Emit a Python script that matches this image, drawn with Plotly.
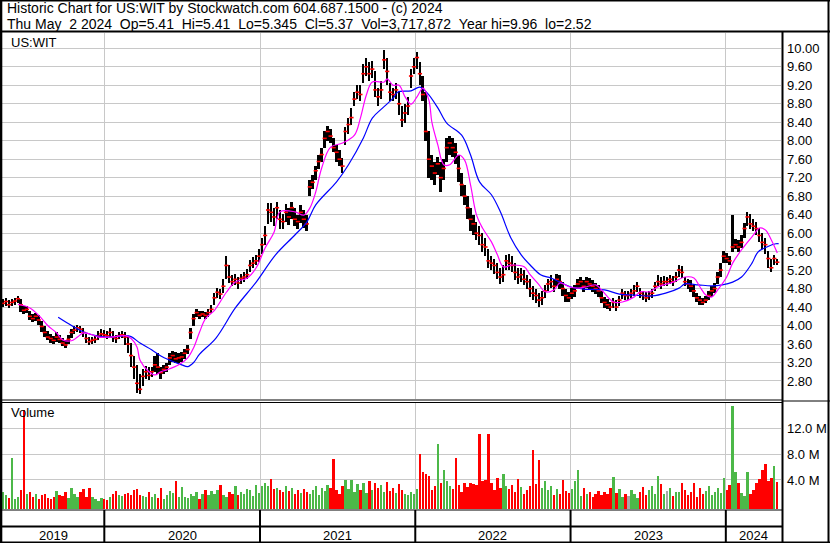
import pandas as pd
import plotly.graph_objects as go

# ---------------- data ----------------
start_date = "2019-05-08"          # first weekly bar
x_range = ["2019-05-05 12:00", "2024-05-09 17:00"]

close = [
    4.48, 4.52, 4.45, 4.50, 4.53, 4.58, 4.45, 4.33, 4.35, 4.20,
    4.15, 4.20, 4.12, 3.98, 3.85, 3.75, 3.72, 3.68, 3.75, 3.70,
    3.62, 3.58, 3.70, 3.85, 3.90, 3.95, 3.92, 3.85, 3.72, 3.65,
    3.68, 3.70, 3.78, 3.82, 3.80, 3.78, 3.85, 3.75, 3.72, 3.78,
    3.80, 3.75, 3.60, 3.35, 3.10, 2.75, 2.62, 2.90, 3.00, 2.92,
    3.00, 3.15, 3.10, 2.98, 3.05, 3.10, 3.30, 3.35, 3.28, 3.30,
    3.32, 3.40, 3.48, 3.85, 4.15, 4.28, 4.22, 4.25, 4.22, 4.28,
    4.35, 4.60, 4.72, 4.68, 4.85, 5.30, 5.05, 4.95, 5.00, 4.92,
    5.02, 5.05, 5.10, 5.30, 5.35, 5.40, 5.50, 5.75, 5.95, 6.50,
    6.45, 6.35, 6.55, 6.30, 6.25, 6.45, 6.35, 6.55, 6.30, 6.25,
    6.45, 6.30, 6.20, 7.00, 7.10, 7.35, 7.55, 7.70, 8.05, 8.20,
    8.10, 7.85, 7.75, 7.60, 7.45, 8.20, 8.35, 8.50, 8.90, 9.05,
    9.00, 9.45, 9.60, 9.45, 9.55, 9.10, 8.95, 9.10, 9.75, 9.50,
    9.05, 9.00, 9.10, 8.80, 8.45, 8.60, 8.75, 9.40, 9.60, 9.80,
    9.45, 9.00, 8.20, 7.60, 7.45, 7.30, 7.50, 7.20, 7.40, 7.85,
    7.95, 7.85, 7.75, 7.40, 7.05, 6.80, 6.55, 6.30, 6.20, 6.00,
    5.95, 5.75, 5.70, 5.40, 5.35, 5.30, 5.15, 5.05, 5.10, 5.40,
    5.35, 5.30, 5.15, 5.05, 5.10, 5.00, 4.95, 4.80, 4.70, 4.65,
    4.55, 4.60, 4.75, 4.90, 4.95, 4.85, 5.00, 4.95, 4.80, 4.65,
    4.60, 4.70, 4.75, 4.90, 4.95, 4.85, 4.95, 4.90, 4.85, 4.80,
    4.75, 4.60, 4.50, 4.45, 4.40, 4.50, 4.40, 4.55, 4.70, 4.65,
    4.65, 4.70, 4.75, 4.85, 4.70, 4.65, 4.60, 4.65, 4.70, 4.85,
    4.95, 4.90, 4.95, 4.95, 5.00, 4.95, 5.05, 5.20, 5.15, 4.95,
    4.90, 4.85, 4.75, 4.60, 4.55, 4.50, 4.55, 4.65, 4.75, 4.80,
    5.05, 5.20, 5.50, 5.45, 5.40, 5.70, 5.75, 5.70, 5.80, 6.10,
    6.35, 6.20, 6.15, 6.10, 5.95, 5.80, 5.75, 5.45, 5.25, 5.45,
    5.37,
]

high = [
    4.58, 4.60, 4.55, 4.58, 4.60, 4.65, 4.58, 4.42, 4.42, 4.32,
    4.25, 4.28, 4.22, 4.10, 3.98, 3.88, 3.82, 3.78, 3.85, 3.80,
    3.72, 3.68, 3.80, 3.92, 3.98, 4.02, 3.98, 3.95, 3.82, 3.75,
    3.75, 3.80, 3.88, 3.92, 3.90, 3.88, 3.95, 3.88, 3.80, 3.86,
    3.88, 3.85, 3.78, 3.62, 3.35, 3.15, 2.95, 3.05, 3.12, 3.10,
    3.10, 3.35, 3.40, 3.10, 3.15, 3.20, 3.40, 3.45, 3.42, 3.40,
    3.42, 3.50, 3.58, 3.95, 4.25, 4.35, 4.32, 4.32, 4.30, 4.35,
    4.45, 4.70, 4.82, 4.80, 5.00, 5.50, 5.30, 5.10, 5.12, 5.05,
    5.12, 5.15, 5.22, 5.42, 5.48, 5.52, 5.65, 5.90, 6.15, 6.65,
    6.65, 6.55, 6.68, 6.50, 6.42, 6.62, 6.55, 6.68, 6.55, 6.40,
    6.60, 6.50, 6.40, 7.15, 7.25, 7.45, 7.70, 7.85, 8.20, 8.32,
    8.25, 8.05, 7.90, 7.80, 7.62, 8.30, 8.50, 8.70, 9.05, 9.20,
    9.20, 9.65, 9.80, 9.70, 9.72, 9.50, 9.15, 9.30, 9.96, 9.80,
    9.25, 9.15, 9.25, 9.05, 8.75, 8.80, 8.95, 9.55, 9.80, 9.92,
    9.70, 9.40, 9.05, 8.20, 7.70, 7.55, 7.65, 7.55, 7.60, 8.05,
    8.10, 8.05, 7.95, 7.70, 7.30, 7.05, 6.80, 6.55, 6.40, 6.25,
    6.15, 6.00, 5.90, 5.65, 5.50, 5.45, 5.35, 5.25, 5.30, 5.52,
    5.55, 5.50, 5.35, 5.25, 5.25, 5.20, 5.10, 5.00, 4.85, 4.80,
    4.70, 4.75, 4.88, 5.00, 5.10, 5.00, 5.12, 5.10, 4.95, 4.80,
    4.72, 4.82, 4.88, 5.00, 5.05, 4.98, 5.05, 5.02, 4.98, 4.92,
    4.88, 4.75, 4.62, 4.58, 4.52, 4.60, 4.55, 4.65, 4.80, 4.75,
    4.75, 4.80, 4.88, 4.95, 4.82, 4.75, 4.72, 4.75, 4.80, 4.95,
    5.10, 5.05, 5.08, 5.05, 5.10, 5.08, 5.15, 5.30, 5.28, 5.05,
    5.00, 4.98, 4.88, 4.70, 4.65, 4.60, 4.65, 4.75, 4.85, 4.92,
    5.15, 5.35, 5.62, 5.58, 5.50, 6.40, 5.88, 5.85, 5.95, 6.22,
    6.45, 6.42, 6.30, 6.25, 6.12, 6.00, 5.90, 5.62, 5.45, 5.52,
    5.45,
]

low = [
    4.40, 4.42, 4.38, 4.42, 4.45, 4.48, 4.30, 4.25, 4.28, 4.12,
    4.08, 4.10, 4.02, 3.85, 3.75, 3.68, 3.62, 3.60, 3.65, 3.62,
    3.55, 3.52, 3.60, 3.72, 3.82, 3.86, 3.84, 3.75, 3.62, 3.58,
    3.60, 3.62, 3.68, 3.74, 3.72, 3.70, 3.75, 3.65, 3.62, 3.70,
    3.72, 3.58, 3.40, 3.10, 2.85, 2.55, 2.52, 2.70, 2.85, 2.82,
    2.88, 3.00, 2.95, 2.85, 2.95, 3.00, 3.15, 3.22, 3.18, 3.20,
    3.22, 3.28, 3.38, 3.70, 3.98, 4.18, 4.15, 4.18, 4.15, 4.18,
    4.28, 4.45, 4.60, 4.58, 4.70, 5.00, 4.92, 4.85, 4.88, 4.80,
    4.90, 4.95, 5.00, 5.15, 5.25, 5.30, 5.38, 5.55, 5.75, 6.20,
    6.25, 6.15, 6.30, 6.10, 6.08, 6.25, 6.18, 6.30, 6.15, 6.10,
    6.22, 6.12, 6.05, 6.80, 6.95, 7.15, 7.38, 7.55, 7.85, 8.00,
    7.95, 7.75, 7.55, 7.45, 7.30, 7.90, 8.15, 8.35, 8.75, 8.90,
    8.85, 9.25, 9.40, 9.30, 9.35, 8.95, 8.75, 8.90, 9.55, 9.20,
    8.85, 8.85, 8.90, 8.55, 8.30, 8.38, 8.55, 9.15, 9.45, 9.55,
    9.20, 8.85, 8.00, 7.20, 7.15, 7.05, 7.25, 6.90, 7.15, 7.55,
    7.70, 7.65, 7.50, 7.10, 6.80, 6.60, 6.30, 6.05, 5.95, 5.85,
    5.75, 5.60, 5.50, 5.25, 5.20, 5.12, 5.00, 4.90, 4.95, 5.20,
    5.20, 5.15, 4.98, 4.90, 4.95, 4.88, 4.80, 4.62, 4.55, 4.48,
    4.40, 4.45, 4.60, 4.75, 4.82, 4.72, 4.85, 4.80, 4.65, 4.52,
    4.50, 4.58, 4.62, 4.78, 4.82, 4.72, 4.82, 4.80, 4.72, 4.68,
    4.62, 4.48, 4.38, 4.35, 4.32, 4.38, 4.32, 4.42, 4.58, 4.55,
    4.55, 4.60, 4.65, 4.72, 4.60, 4.55, 4.52, 4.55, 4.60, 4.75,
    4.85, 4.80, 4.85, 4.85, 4.90, 4.85, 4.95, 5.05, 5.02, 4.85,
    4.78, 4.72, 4.62, 4.50, 4.45, 4.45, 4.48, 4.55, 4.62, 4.70,
    4.90, 5.05, 5.35, 5.35, 5.32, 5.60, 5.65, 5.60, 5.68, 5.90,
    6.15, 6.08, 6.05, 5.95, 5.80, 5.65, 5.55, 5.25, 5.15, 5.30,
    5.32,
]

volume_m = [
    2.1, 1.6, 1.2, 7.4, 1.0, 1.3, 2.5, 14.8, 1.8, 2.2,
    1.3, 1.8, 1.1, 1.6, 1.9, 1.2, 1.0, 1.4, 2.3, 1.7,
    1.5, 2.1, 1.2, 2.8, 1.9, 1.3, 2.2, 2.6, 1.4, 2.8,
    1.4, 1.0, 0.8, 1.2, 1.0, 0.9, 1.4, 1.8, 2.3, 1.6,
    1.5, 1.9, 2.0, 1.7, 2.4, 2.6, 1.6, 1.5, 1.3, 2.1,
    1.4, 1.8, 1.2, 2.8, 1.0, 1.6, 2.3, 2.0, 3.9, 1.3,
    2.9, 1.4, 1.2, 1.8, 1.5, 2.1, 1.1, 1.9, 2.4, 1.6,
    2.3, 1.8, 2.5, 3.2, 1.7, 1.4, 2.2, 1.8, 3.0, 1.6,
    2.1, 1.9, 2.6, 2.4, 1.5, 3.2, 2.0, 3.1, 3.6, 3.0,
    4.1, 2.6, 2.8, 2.5, 2.2, 3.0, 2.3, 2.7, 1.8, 2.4,
    2.0, 2.6, 2.2, 1.8, 2.4, 3.0, 1.7, 2.8, 2.3, 3.3,
    2.7, 7.2, 2.5, 1.8, 3.0, 4.0, 2.6, 4.0, 2.2, 3.4,
    2.5, 3.5, 2.0, 3.8, 2.4, 3.6, 2.8, 3.2, 2.1, 3.7,
    2.3, 2.7, 2.0, 3.4, 2.5, 1.8, 1.6, 2.2, 1.9, 2.6,
    8.0, 5.2, 5.0, 4.6, 2.5, 3.0, 9.6, 3.5, 5.5, 3.8,
    3.0, 2.6, 7.4, 3.3, 2.2, 3.6, 2.9, 3.5, 3.4, 3.2,
    11.2, 3.8, 4.0, 11.2, 3.5, 2.4, 4.3, 2.8, 5.0, 3.1,
    2.6, 3.3, 2.2, 4.1, 2.9, 1.8, 2.5, 3.0, 8.7, 3.4,
    7.1, 2.8, 3.9, 2.4, 3.1, 1.7, 2.6, 1.8, 4.0, 2.3,
    2.0, 2.6, 3.9, 5.6, 1.5, 2.7, 1.8, 2.2, 1.4, 1.9,
    2.3, 1.6, 2.2, 1.8, 2.8, 4.4, 2.0, 2.6, 1.3, 1.8,
    1.5, 2.4, 1.9, 1.2, 2.2, 2.9, 1.6, 2.5, 3.0, 1.8,
    4.6, 3.4, 1.9, 2.3, 2.8, 1.5, 2.2, 2.1, 3.6, 2.4,
    1.6, 2.2, 3.5, 1.4, 2.7, 1.9, 2.3, 3.1, 1.6, 2.2,
    2.8, 2.0, 4.3, 2.4, 3.2, 15.4, 5.3, 3.6, 2.0, 1.5,
    5.2, 1.8, 2.5, 3.6, 4.2, 5.5, 6.5, 3.9, 4.3, 6.2,
    3.7,
]

# moving averages: (week offset from start, value)
ma_fast_wk = [5, 9, 12, 15, 18, 20, 23, 25, 27, 30, 32, 36, 41, 43, 45, 46, 49, 51, 53, 55,
              59, 62, 64, 66, 68, 71, 75, 78, 82, 85, 88, 91, 93, 98, 101, 103, 105, 107, 110, 114,
              118, 120, 122, 124, 128, 129, 131, 133, 135, 137, 139, 141, 143, 144, 146, 148, 150, 153, 155, 157,
              159, 161, 164, 166, 168, 171, 175, 177, 180, 182, 185, 187, 190, 193, 196, 199, 201, 205, 208, 212,
              214, 217, 220, 225, 229, 232, 234, 236, 238, 240, 243, 245, 248, 252, 254, 256, 258, 260]
ma_fast = [4.46, 4.38, 4.22, 4.00, 3.84, 3.69, 3.67, 3.75, 3.84, 3.80, 3.75, 3.75, 3.78, 3.72, 3.53, 3.25, 3.00, 2.93, 3.00, 3.04,
           3.15, 3.30, 3.52, 3.86, 4.15, 4.33, 4.72, 4.94, 5.03, 5.25, 5.68, 6.02, 6.46, 6.46, 6.39, 6.54, 6.89, 7.41, 7.86, 7.95,
           8.12, 8.49, 8.99, 9.27, 9.27, 9.34, 9.20, 9.20, 8.95, 8.79, 8.95, 9.14, 8.88, 8.40, 7.91, 7.48, 7.48, 7.69, 7.58, 7.04,
           6.39, 6.11, 5.81, 5.53, 5.27, 5.31, 5.27, 5.10, 4.88, 4.73, 4.77, 4.92, 4.84, 4.81, 4.84, 4.88, 4.77, 4.51, 4.51, 4.62,
           4.73, 4.73, 4.84, 4.94, 5.05, 5.03, 4.84, 4.66, 4.62, 4.77, 5.05, 5.35, 5.64, 5.96, 6.11, 6.07, 5.85, 5.57]

ma_slow_wk = [18.5, 23, 27, 32, 36, 41, 43, 46, 50, 53, 56, 60, 62, 64, 66, 71.5, 78, 85, 91.5, 98,
              102, 105, 112, 116, 121, 124, 127.5, 131, 132.5, 137, 140, 142.5, 146, 149, 154, 157, 160, 164, 167, 170.5,
              174, 177, 180.5, 184, 187, 190.5, 195, 202, 207, 212, 218, 222.5, 227, 229, 233.5, 238, 241.5, 245, 248, 251.5,
              253.5, 256.5, 259.5, 260.5]
ma_slow = [4.18, 4.00, 3.86, 3.77, 3.75, 3.78, 3.76, 3.62, 3.47, 3.34, 3.25, 3.15, 3.11, 3.20, 3.38, 3.73, 4.38, 4.94, 5.53, 5.96,
           6.24, 6.61, 7.11, 7.48, 8.06, 8.49, 8.71, 8.92, 9.05, 9.08, 9.16, 9.03, 8.71, 8.38, 8.12, 7.69, 7.11, 6.83, 6.46, 5.90,
           5.53, 5.31, 5.10, 5.03, 4.94, 4.84, 4.79, 4.77, 4.68, 4.66, 4.64, 4.70, 4.81, 4.90, 4.88, 4.86, 4.88, 4.94, 5.05, 5.35,
           5.59, 5.70, 5.77, 5.77]

price_ticks = [2.8, 3.2, 3.6, 4.0, 4.4, 4.8, 5.2, 5.6, 6.0, 6.4, 6.8, 7.2, 7.6, 8.0, 8.4, 8.8, 9.2, 9.6, 10.0]
vol_ticks = [4, 8, 12]
vol_tick_text = ["4.0 M", "8.0 M", "12.0 M"]
years = [2019, 2020, 2021, 2022, 2023, 2024]

title_line1 = "Historic Chart for US:WIT by Stockwatch.com 604.687.1500 - (c) 2024"
title_line2 = ("Thu May  2 2024  Op=5.41  Hi=5.41  Lo=5.345  Cl=5.37  "
               "Vol=3,717,872  Year hi=9.96  lo=2.52")

assert len(close) == len(high) == len(low) == len(volume_m)
assert len(ma_fast_wk) == len(ma_fast) and len(ma_slow_wk) == len(ma_slow)

# ---------------- styling / layout geometry ----------------
W, H = 830, 543
FONT = "Liberation Sans, Arial, sans-serif"
GRID = "#c8c8c8"
UP, DOWN, FLAT = "#4cb848", "#ff0000", "#a8a8a8"
VOL_FLOOR = -0.5   # volume axis bottom (millions)


def px(x):
    return x / W


def py(y):
    return 1 - y / H


dates = pd.date_range(start_date, periods=len(close), freq="7D")
t0 = pd.Timestamp(start_date)
fast_dates = [t0 + pd.Timedelta(days=7 * w) for w in ma_fast_wk]
slow_dates = [t0 + pd.Timedelta(days=7 * w) for w in ma_slow_wk]

vol_colors = []
for i, c in enumerate(close):
    prev = close[i - 1] if i > 0 else c - 0.01
    vol_colors.append(UP if c > prev else (DOWN if c < prev else FLAT))

DAY_MS = 86400000
fig = go.Figure()

fig.add_trace(go.Bar(
    x=dates, y=[h - l for h, l in zip(high, low)], base=low,
    width=4.5 * DAY_MS, marker=dict(color="black", line=dict(width=0)),
    xaxis="x", yaxis="y", showlegend=False, hoverinfo="skip"))
fig.add_trace(go.Scatter(
    x=dates, y=close, mode="markers",
    marker=dict(symbol="line-ew", size=3, line=dict(color="#ff0000", width=1.6)),
    xaxis="x", yaxis="y", showlegend=False, hoverinfo="skip"))
fig.add_trace(go.Scatter(
    x=slow_dates, y=ma_slow, mode="lines", line=dict(color="#0000ff", width=1.2, shape="spline"),
    xaxis="x", yaxis="y", showlegend=False, hoverinfo="skip"))
fig.add_trace(go.Scatter(
    x=fast_dates, y=ma_fast, mode="lines", line=dict(color="#ff00ff", width=1.2, shape="spline"),
    xaxis="x", yaxis="y", showlegend=False, hoverinfo="skip"))
fig.add_trace(go.Bar(
    x=dates, y=[v - VOL_FLOOR for v in volume_m], base=VOL_FLOOR,
    width=5.5 * DAY_MS, marker=dict(color=vol_colors, line=dict(width=0)),
    xaxis="x2", yaxis="y2", showlegend=False, hoverinfo="skip"))

xcommon = dict(type="date", range=x_range, showgrid=True, gridcolor=GRID, gridwidth=1,
               tick0="2020-01-01", dtick="M12", showticklabels=False, ticks="",
               showline=False, zeroline=False, domain=[px(2), px(781)])

fig.update_layout(
    width=W, height=H, margin=dict(l=0, r=0, t=0, b=0),
    paper_bgcolor="white", plot_bgcolor="white",
    font=dict(family=FONT, size=13, color="black"),
    bargap=0, showlegend=False,
    xaxis=dict(anchor="y", **xcommon),
    xaxis2=dict(anchor="y2", matches="x", **xcommon),
    yaxis=dict(domain=[py(399), py(33)], range=[2.410, 10.331], side="right", anchor="x",
               tickvals=price_ticks, ticktext=[f"{v:.2f}" for v in price_ticks],
               showgrid=True, gridcolor=GRID, gridwidth=1, ticks="", zeroline=False,
               showline=False, ticklabelstandoff=5, tickfont=dict(size=13, family=FONT)),
    yaxis2=dict(domain=[py(509), py(403)], range=[VOL_FLOOR, 15.94], side="right", anchor="x2",
                tickvals=vol_ticks, ticktext=vol_tick_text,
                showgrid=True, gridcolor=GRID, gridwidth=1, ticks="", zeroline=False,
                showline=False, ticklabelstandoff=5, tickfont=dict(size=13, family=FONT)),
)

shapes = []


def hline(y, x0, x1, w=1):
    shapes.append(dict(type="line", xref="paper", yref="paper", x0=px(x0), x1=px(x1),
                       y0=py(y), y1=py(y), line=dict(color="black", width=w)))


def vline(x, y0, y1, w=1):
    shapes.append(dict(type="line", xref="paper", yref="paper", x0=px(x), x1=px(x),
                       y0=py(y0), y1=py(y1), line=dict(color="black", width=w)))


# outer border
hline(0.5, 0, 830, 2)
hline(542.5, 0, 830, 2)
vline(0.8, 0, 543, 3)
vline(828.5, 0, 543, 2)
# header separator
hline(31.5, 0, 830, 2)
# right axis separator
vline(782.5, 31, 543, 2)
# price / volume double line
hline(400, 0, 782, 1)
hline(402.5, 0, 782, 1)
hline(401, 782, 830, 1)
# volume bottom and date band
hline(510, 0, 782, 1)
hline(526.5, 0, 782, 2)
for yr in years[1:]:
    shapes.append(dict(type="line", xref="x", yref="paper", x0=f"{yr}-01-01", x1=f"{yr}-01-01",
                       y0=py(510), y1=py(543), line=dict(color="black", width=2)))

fig.update_layout(shapes=shapes)

ann = []
NB = "\u00a0"
ann.append(dict(x=px(6), y=py(8), xref="paper", yref="paper", text=title_line1, borderpad=0,
                showarrow=False, xanchor="left", yanchor="middle", font=dict(size=14)))
ann.append(dict(x=px(6), y=py(24), xref="paper", yref="paper", text=title_line2.replace("  ", NB + NB),
                borderpad=0, showarrow=False, xanchor="left", yanchor="middle", font=dict(size=14)))
ann.append(dict(x=px(9), y=py(42), xref="paper", yref="paper", text="US:WIT",
                showarrow=False, xanchor="left", yanchor="middle", font=dict(size=13)))
ann.append(dict(x=px(9), y=py(413), xref="paper", yref="paper", text="Volume",
                showarrow=False, xanchor="left", yanchor="middle", font=dict(size=13)))

r0, r1 = pd.Timestamp(x_range[0]), pd.Timestamp(x_range[1])
for yr in years:
    lo = max(pd.Timestamp(f"{yr}-01-01"), r0)
    hi = min(pd.Timestamp(f"{yr + 1}-01-01"), r1)
    mid = lo + (hi - lo) / 2
    ann.append(dict(x=mid, y=py(535), xref="x", yref="paper", text=str(yr),
                    showarrow=False, xanchor="center", yanchor="middle", font=dict(size=13)))
fig.update_layout(annotations=ann)

fig.write_html("out.html", config={"displayModeBar": False},
               post_script="document.body.style.margin='0';document.body.style.padding='0';")
